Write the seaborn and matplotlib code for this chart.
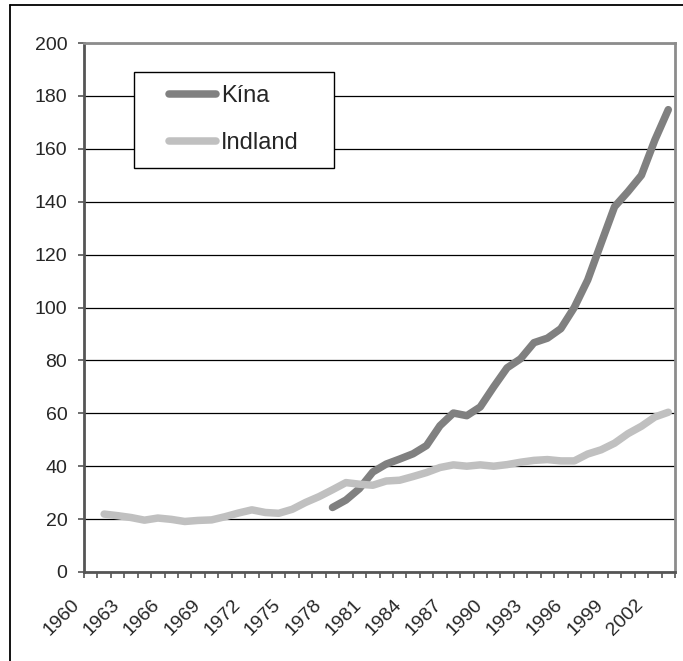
import numpy as np
import pandas as pd
import matplotlib
matplotlib.use("Agg")
import matplotlib.pyplot as plt
from matplotlib.lines import Line2D
from matplotlib.patches import Rectangle
from matplotlib.ticker import MultipleLocator, FixedLocator
from matplotlib.transforms import ScaledTranslation
import seaborn as sns

# ---- data ----
categories = list(range(1960, 2004))
tick_labels = [str(y) for y in range(1960, 2004, 3)]

china_years = list(range(1978, 2004))
china_values = [24.4, 27.2, 31.5, 37.8, 40.8, 42.7, 44.7, 47.8, 55.3, 60.1,
                59.1, 62.4, 70.0, 77.2, 80.6, 86.7, 88.4, 92.0, 100.0, 110.4,
                124.3, 138.1, 143.8, 150.0, 163.3, 174.8]

india_years = list(range(1961, 2004))
india_values = [21.9, 21.3, 20.6, 19.6, 20.4, 19.9, 19.1, 19.5, 19.7, 20.9,
                22.3, 23.5, 22.5, 22.2, 23.7, 26.3, 28.5, 31.1, 33.8, 33.2,
                32.8, 34.4, 34.7, 36.1, 37.6, 39.5, 40.5, 40.0, 40.5, 40.0,
                40.6, 41.5, 42.2, 42.5, 42.0, 42.0, 44.6, 46.2, 48.7, 52.3,
                55.1, 58.6, 60.4]

series_names = ["Kína", "Indland"]
series_colors = ["#808080", "#C0C0C0"]

df = pd.concat([
    pd.DataFrame({"pos": [categories.index(y) for y in china_years],
                  "value": china_values, "series": series_names[0]}),
    pd.DataFrame({"pos": [categories.index(y) for y in india_years],
                  "value": india_values, "series": series_names[1]}),
], ignore_index=True)

sns.set_style("white")
plt.rcParams["font.family"] = ["Liberation Sans", "DejaVu Sans"]

W, H = 683, 661
fig = plt.figure(figsize=(W / 100, H / 100), dpi=100)
fig.patch.set_facecolor("white")
ax = fig.add_axes([84 / W, 1 - 572 / H, (675 - 84) / W, (572 - 43) / H])

sns.lineplot(data=df, x="pos", y="value", hue="series",
             palette=dict(zip(series_names, series_colors)),
             linewidth=5.4, ax=ax, legend=False, sort=True)
for ln in ax.get_lines():
    ln.set_solid_capstyle("round")
    ln.set_solid_joinstyle("round")
    ln.set_zorder(3)

ax.set_xlim(-0.5, len(categories) - 0.5)
ax.set_ylim(0, 200)
ax.set_xlabel("")
ax.set_ylabel("")

# y axis
ax.yaxis.set_major_locator(MultipleLocator(20))
ax.yaxis.grid(True, color="#000000", linewidth=0.9)
ax.set_axisbelow(True)
ax.tick_params(axis="y", which="major", direction="out", length=4.5, width=1.2,
               color="#555555", labelsize=14, pad=7.5, left=True)

# x axis: ticks at category boundaries, labels every 3rd category
label_pos = [categories.index(int(t)) for t in tick_labels]
ax.xaxis.set_major_locator(FixedLocator(label_pos))
ax.set_xticklabels(tick_labels, rotation=45, ha="right", va="top",
                   rotation_mode="anchor")
ax.xaxis.set_minor_locator(FixedLocator(np.arange(-0.5, len(categories), 1.0)))
ax.tick_params(axis="x", which="major", length=0, labelsize=14, pad=17.5)
ax.tick_params(axis="x", which="minor", direction="out", length=4.5, width=1.2,
               color="#555555", bottom=True)
shift = ScaledTranslation(-20 / 100, 0, fig.dpi_scale_trans)
for lbl in ax.get_xticklabels():
    lbl.set_transform(lbl.get_transform() + shift)

for side in ["left", "bottom"]:
    ax.spines[side].set_color("#555555")
    ax.spines[side].set_linewidth(2.0)
for side in ["top", "right"]:
    ax.spines[side].set_color("#8c8c8c")
    ax.spines[side].set_linewidth(2.0)
    ax.spines[side].set_visible(True)

# legend
handles = [Line2D([0], [0], color=c, linewidth=5.4, solid_capstyle="round")
           for c in series_colors]
leg = fig.legend(handles, series_names, loc="upper left",
                 bbox_to_anchor=(169 / W, 1 - 85 / H), frameon=False,
                 fontsize=17, handlelength=2.0, handletextpad=0.2,
                 labelspacing=1.05, borderpad=0, borderaxespad=0)
fig.add_artist(Rectangle((134 / W, 1 - 168 / H), 200 / W, 96 / H,
                         transform=fig.transFigure, fill=True,
                         facecolor="white", edgecolor="#000000",
                         linewidth=1.0, zorder=5))
leg.set_zorder(6)

# outer chart frame (left and top edges visible)
fig.add_artist(Line2D([10 / W, 10 / W], [-0.1, 1 - 5 / H],
                      transform=fig.transFigure, color="black", linewidth=1.3))
fig.add_artist(Line2D([10 / W, 1.1], [1 - 5 / H, 1 - 5 / H],
                      transform=fig.transFigure, color="black", linewidth=1.3))

fig.savefig("out.png", dpi=100)
